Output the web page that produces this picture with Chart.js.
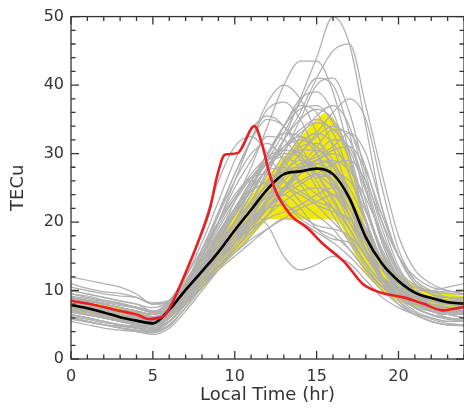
<!DOCTYPE html>
<html>
<head>
<meta charset="utf-8">
<script src="https://cdn.jsdelivr.net/npm/chart.js@4.4.1/dist/chart.umd.min.js"></script>
<style>
  html, body { margin: 0; padding: 0; background: #fff; }
</style>
</head>
<body>
<canvas id="chartCanvas" width="464" height="410"></canvas>
<script>
// local time (hr) for the hourly curves
const hours = [0,1,2,3,4,5,6,7,8,9,10,11,12,13,14,15,16,17,18,19,20,21,22,23,24];

// individual days (gray)
const grayCurves = [
  [8.5,8,7.5,7,6.5,6,7.5,10,13,16,19,23,27,32,38,44,50,46,34,22,15,11,9.5,8.5,8],
  [9,8.5,8,7.5,7,6.5,7.5,10.5,13.5,16.5,20,24,28,32,36,41,45,46,37,27,18,13,11,10,9.5],
  [7.5,7,6.5,6,5.5,5,7,10,14,18,23,28,34,40,43.5,43.5,39,30,20,14,11,9,8,7.5,7],
  [8,7.5,7,6.5,6,5.5,7,10.5,15,20,26,32,37.5,40,38,33,27,21,16,12,10,8.5,7.5,7,7],
  [9,8.5,8,7.5,7,6.5,8,12,17,23,29,33.5,35.5,34,30,26,22,18,14,11,9.5,8.5,8,7.5,7.5],
  [10,9.5,9,8.5,8,7,8.5,12.5,19,26,31,32.5,30,26,23,21,19,16,13,10.5,9,8,7.5,7,7],
  [7,6.5,6,5.5,5,4.5,6,9,12,15,18,22,26,30,35,40,41,36,27,19,13,10,8.5,7.5,7],
  [8,7.5,7,6.5,6,5.5,7,9.5,12,15,18,21,24,27,30,33,36,38,35,25,16,11.5,9.5,8.5,8],
  [6.5,6,5.5,5,4.5,4,5.5,8.5,12,16,20,25,30,34,37,36,31,24,17,12,9.5,8,7,6.5,6],
  [7,6.5,6,5.5,5,4.5,6,9,12.5,16,20,24,28,31,33.5,35,33,27,20,14,10.5,8.5,7.5,7,6.5],
  [8,7.5,7,6.5,6,5.5,7,10.5,15,20,25,29,32.5,32,29,25,21,17,13.5,10.5,9,8,7,6.5,6.5],
  [6,5.5,5,4.5,4.2,4,5,7.5,11,14,17,21,25,28,30.5,30.5,28,23,17,12,9,7.5,6.5,6,5.5],
  [7.5,7,6.5,6,5.5,5,6.5,9,12,14.5,17,19.5,22,24.5,27,29,30,28,22,15,11,9,8,7.5,7],
  [9,8.5,8,7.5,7,6.5,7.5,10.5,14.5,18,22,25,27.5,28,26,24,22,19,15,12,10,9,8.5,8,8],
  [6,5.5,5,4.8,4.5,4.2,5.5,8,11,14,17,20,22.5,24.5,26,27,26,22,16,11.5,9,7.5,6.5,6,5.5],
  [7,6.5,6,5.5,5,4.5,6,9,12.5,16,19,21,19.5,15,13,13.8,15,14,11.5,9,7.5,6.5,6,5.5,5.5],
  [8,7.5,7,6.5,6,5.5,7,10,13,16,19,22,23.5,24,22,19,17.5,17,14,11,9,8,7,6.5,6.5],
  [10,9.5,9,8.5,8,7.5,8.5,12,16,20,23.5,26,25.5,23,20.5,19,18,16,13,10.5,9,8,7.5,7,7],
  [7,6.5,6,5.5,5,4.8,6,8.5,11,13.5,16,19,22,25,28,30,32,31,25,17,12,9.5,8,7,6.5],
  [8.5,8,7.5,7,6.5,6,7,9.5,12.5,15,17.5,20,22,24,25.5,27,28.5,29,26,20,15,12,10.5,10,9.5],
  [12,11.5,11,10.5,9.5,8,8.5,11,14.5,18,22,26,29,31,32,31,28,23,17,13,11,10,10,10.5,11],
  [7.5,7,6.5,6,5.5,5,6.5,10,15,21,27,32,35,34,31,27,23,19,15,11.5,9.5,8,7,6.5,6.5],
  [8,7.5,7,6.5,6,5.5,7,9.5,13,17,21,25,29.5,34,38,39,36,29,20,14,10.5,9,8,7.5,7.5],
  [6.5,6,5.5,5,4.5,4,5.5,8,11,14,17,20,23.5,27,30,32.5,34,32,25,17,11.5,8.5,7,6,5.5],
  [5.5,5,4.5,4.2,4,3.8,5,7.5,10.5,13.5,16,18.5,21,23,24.5,25,24,21,16,11,8,6.5,5.5,5,5],
  [9.5,9,8.5,8,7.5,7,8,11,15,19,23,26.5,29,30,29.5,27,23.5,19,15,12,10.5,9.5,9,9,9],
  [7,6.5,6,5.5,5,4.5,6,8.5,11.5,14.5,17.5,21,25,29,32.5,35.5,37,34,26,18,12.5,9.5,8,7,6.5],
  [8.5,8,7.5,7,6.5,6,7.5,11,15.5,20,24,26.5,27,26,24.5,23,22,20,16,12,9.5,8,7,6.5,6.5],
  [6.5,6,5.5,5,4.8,4.5,5.5,8,11,13.5,15.5,17.5,19,20.5,20,18.5,17,15,12.5,10,8,6.5,5.5,5,5],
  [7,6.5,6,5.5,5,4.5,6,9,13,17,21.5,26,30,33,32.5,30,26,21,16,12,9.5,8,7,6.5,6],
  [9,8.5,8,7.5,7,6.5,7.5,10,13,15.5,18,20.5,23,25,27,29,30.5,31,27.5,21,15,11.5,10,9,8.5],
  [7.5,7,6.5,6,5.5,5,6.5,9.5,13,16.5,20,23,25.5,27.5,28,27,25,21,16,12,9.5,8,7.5,7,7],
  [6,5.5,5,4.8,4.5,4.2,5.5,8,10.5,13,15,17,19,20.5,22,23,24,22,17,12,9,7,6,5.5,5.5],
  [8,7.5,7,6.5,6,5.5,7,10.5,16,21,26,30,31.5,29,25.5,22.5,20,17.5,14,11,9,8,7.5,7,7],
  [8,7.5,7,6.5,6,5.5,7,10,13.5,17.5,21,25,29,33,37.5,41,40,33,23,15.5,11,9,8,7.5,7.5],
  [9,8.5,8,7.5,7,6.5,7.5,11,16,21.5,27,32,36.5,37.5,35,30,25,20,15.5,12,10,9,8.5,8,8],
  [6,5.5,5,4.5,4,3.6,4.5,7,10,13,16,19,22,25,27.5,29,28,24,18,12,8.5,6.5,5.5,5,4.8],
  [8,7.6,7.3,6.8,6.2,5.6,6.5,9,11.5,13.5,15.5,18,21,24.5,28,31,33.5,33,28,20,13.5,10,8.5,8,7.5],
  [9.5,9.2,8.6,8.2,7.5,6.8,7.6,10.2,13,15,17,19.5,23,26.5,28.5,29.5,31,33,30,22,15,11,9.5,9,8.8],
  [7,6.8,6.3,5.8,5.4,5.0,6,9.5,14,18.5,22,24.5,26,27.5,29,28,25.5,22,18,13.5,10.5,8.5,7.5,7,6.8],
  [6.8,6.4,6,5.6,5.2,4.8,5.5,8.2,11.5,14.5,17,19,20.5,21.5,22.5,24,25,23.5,19,14,10,7.5,6.5,6,5.8],
  [10.5,10,9.5,9.2,9,8.2,8.6,11,14.5,18,21.5,24.5,28,32,35,36.5,35,30,22,15.5,12,10.5,10,9.8,10],
  [8.2,7.8,7.2,6.8,6.2,5.6,6.8,10,13.5,17,20,23,27.5,31,32.5,31,28.5,25,20,14.5,11,9,8,7.6,7.4],
  [7.2,6.8,6.2,5.8,5.3,4.9,6.2,9.2,12.5,15.5,18.5,21.5,24,25,24,22.5,21.5,20.5,17,13,10,8.2,7.2,6.8,6.6],
  [9,8.6,8.2,7.8,7.4,6.8,7.8,10.8,14,17.5,21,24.5,28,30.5,33,34.5,33.5,30.5,24.5,17.5,12.5,10,9,8.6,8.4],
  [6.2,5.8,5.3,5,4.7,4.3,5.4,8,11,14,17,20.5,24.5,28.5,31.5,33,31.5,27,20.5,14,9.8,7.6,6.4,5.8,5.6],
  [8.8,8.3,7.6,7.2,6.8,6.2,7.2,10.2,13.8,17.5,21.5,25.5,28.5,29.5,28,26.5,27,26,21.5,15.5,11.5,9.5,8.5,8,7.8],
  [7.6,7.2,6.8,6.3,5.8,5.3,6.6,9.8,13.2,16.5,19.5,22.5,25.5,28.5,31,31.5,29,24,18.5,13.5,10.2,8.4,7.6,7.2,7],
  [11,10.3,9.8,9.6,9,8,8.2,10.5,13,15.5,18,20.5,23,25,27,28.5,29,27.5,23.5,18,13,10.8,9.8,9.6,9.4],
  [5.8,5.4,5,4.6,4.2,3.9,4.8,7.5,10.5,13.5,16.5,19.5,23,26,28,28.5,27,23,17.5,12,8.6,6.8,5.8,5.2,5],
  [8.4,8,7.4,7,6.6,6,7,10.5,15,19.5,23.5,27,29.5,30.5,30,28,26,23,19,14,11,9.2,8.4,8,7.8],
  [7.4,7,6.6,6.2,5.8,5.4,6.4,9.6,13,16,18.5,20.5,22,22.5,21,19.5,19,18,15,11.5,9,7.6,7,6.8,6.6],
  [9.2,8.8,8.4,8,7.6,7,8.2,11.5,15,18.5,22,26,30,34,36.5,37,34.5,29,22,16,12,10,9,8.6,8.4]
];

// mean curve (black)
const meanTec = [7.9,7.4,6.8,6.1,5.6,5.2,7.2,10.1,12.8,15.6,18.8,21.8,24.8,27.0,27.4,27.8,27.0,23.5,17.8,13.9,11.4,9.7,8.9,8.3,8.1];

// storm day (red)
const redHours = [0,1,2,3,4,4.8,5.3,5.7,6.1,7,7.8,8.5,8.9,9.3,9.5,10.2,11.2,11.65,12.15,12.6,13.1,13.5,14.4,15.4,16.4,16.8,17.8,18.9,20.3,21.5,22.7,23.3,24];
const redTec = [8.5,8.1,7.6,7.0,6.5,5.8,6.0,6.3,7.8,12.6,17.3,22.1,26.5,29.6,29.9,30.1,34.0,31.5,26.8,24.0,22.0,20.8,19.2,16.8,14.8,13.9,11.0,9.7,9.0,8.1,7.1,7.3,7.6];

// shaded band (yellow)
const bandHours = [0,2,4,5,5.5,6,7,8,9,10,11,12,13,14,15,15.5,16,16.5,17,17.5,18,19,20,21,22,24];
const bandUpper = [8.6,7.9,6.9,6.3,6.4,8.2,11.5,14.8,18.3,21.1,23.9,26.7,29.5,32.3,35.1,36.0,35.2,33.0,29.8,25.0,19.0,14.8,12.3,10.8,10.0,9.2];
const bandLower = [6.8,6.0,5.2,4.8,4.9,5.8,7.9,10.2,12.8,15.4,17.9,20.4,20.4,20.4,20.4,20.4,20.4,19.5,17.0,14.5,12.3,9.8,8.4,7.6,7.2,7.0];

const xTicks = [0,5,10,15,20];
const yTicks = [0,10,20,30,40,50];

const pts = (xs, ys) => xs.map((x, i) => ({ x: x, y: ys[i] }));

const datasets = [];
datasets.push({
  data: pts(redHours, redTec), borderColor: 'rgb(235,30,35)', borderWidth: 2.6,
  pointRadius: 0, cubicInterpolationMode: 'monotone', order: 0
});
datasets.push({
  data: pts(hours, meanTec), borderColor: '#000', borderWidth: 2.6,
  pointRadius: 0, cubicInterpolationMode: 'monotone', order: 0
});
grayCurves.forEach(c => {
  datasets.push({
    data: pts(hours, c), borderColor: 'rgb(176,176,176)', borderWidth: 1.25,
    pointRadius: 0, cubicInterpolationMode: 'monotone', order: 2
  });
});
const lowerIndex = datasets.length;
datasets.push({
  data: pts(bandHours, bandLower), borderWidth: 0, borderColor: 'rgba(0,0,0,0)',
  pointRadius: 0, tension: 0, order: 3, fill: false
});
datasets.push({
  data: pts(bandHours, bandUpper), borderWidth: 0, borderColor: 'rgba(0,0,0,0)',
  backgroundColor: 'rgb(242,234,0)', pointRadius: 0, tension: 0, order: 3,
  fill: { target: lowerIndex }
});

// IDL style frame with inward ticks
const frameTicks = {
  id: 'frameTicks',
  afterDraw(chart) {
    const { ctx, chartArea: a, scales: { x, y } } = chart;
    ctx.save();
    ctx.strokeStyle = '#333';
    ctx.lineWidth = 1.3;
    ctx.strokeRect(a.left, a.top, a.right - a.left, a.bottom - a.top);
    ctx.beginPath();
    for (let v = 0; v <= 24; v++) {
      const px = x.getPixelForValue(v);
      const len = v % 5 === 0 ? 8 : 4.5;
      ctx.moveTo(px, a.bottom); ctx.lineTo(px, a.bottom - len);
      ctx.moveTo(px, a.top); ctx.lineTo(px, a.top + len);
    }
    for (let v = 0; v <= 50; v += 2) {
      const py = y.getPixelForValue(v);
      const len = v % 10 === 0 ? 8 : 4.5;
      ctx.moveTo(a.left, py); ctx.lineTo(a.left + len, py);
      ctx.moveTo(a.right, py); ctx.lineTo(a.right - len, py);
    }
    ctx.stroke();
    ctx.restore();
  }
};

const tickFont = { family: 'DejaVu Sans', size: 16 };
const titleFont = { family: 'DejaVu Sans', size: 18 };

new Chart(document.getElementById('chartCanvas').getContext('2d'), {
  type: 'line',
  data: { datasets: datasets },
  options: {
    responsive: false,
    animation: false,
    layout: { padding: { top: 15, right: 0, left: 0, bottom: 0 } },
    plugins: { legend: { display: false }, tooltip: { enabled: false } },
    scales: {
      x: {
        type: 'linear', min: 0, max: 24,
        grid: { display: false, drawTicks: false },
        border: { display: false },
        afterBuildTicks: s => { s.ticks = xTicks.map(v => ({ value: v })); },
        afterFit: s => { s.height = 51; },
        ticks: { font: tickFont, color: '#333', padding: 8, maxRotation: 0 },
        title: { display: true, text: 'Local Time (hr)', font: titleFont, color: '#333', padding: { top: 2 } }
      },
      y: {
        type: 'linear', min: 0, max: 50,
        grid: { display: false, drawTicks: false },
        border: { display: false },
        afterBuildTicks: s => { s.ticks = yTicks.map(v => ({ value: v })); },
        afterFit: s => { s.width = 71; },
        ticks: { font: tickFont, color: '#333', padding: 7 },
        title: { display: true, text: 'TECu', font: titleFont, color: '#333', padding: { top: 8 } }
      }
    }
  },
  plugins: [frameTicks]
});
</script>
</body>
</html>
